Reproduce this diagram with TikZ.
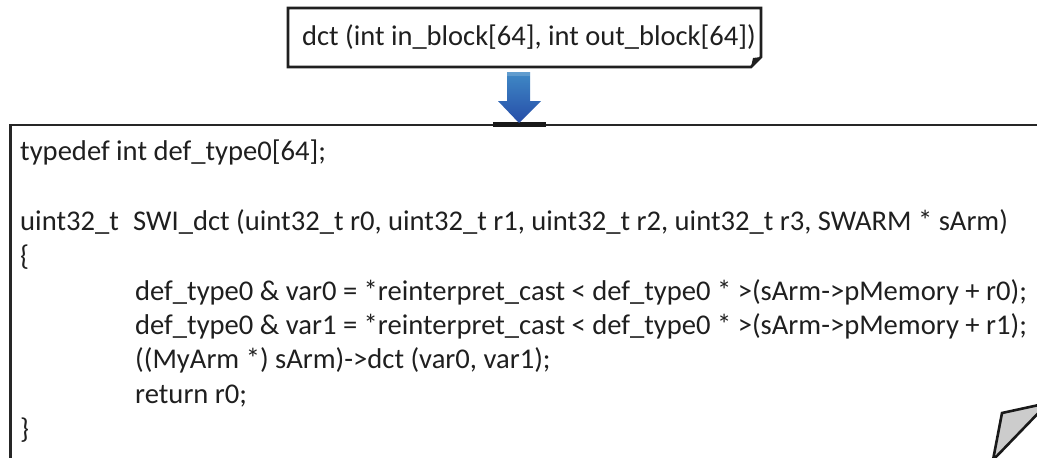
\documentclass[tikz,border=0pt]{standalone}
\usepackage{fontspec}
\setmainfont{Carlito}
\begin{document}
\begin{tikzpicture}[x=1pt,y=-1pt,
  outline/.style={draw=black!88,line width=2.6pt,line join=miter},
  sigtext/.style={inner sep=0pt,anchor=base west,text=black!88,font=\fontsize{28.5}{32}\selectfont},
  code/.style={inner sep=0pt,anchor=base west,text=black!88,font=\fontsize{28.6}{34}\selectfont},
  blockarrow/.style={top color=blue!45!cyan!70!black!75,bottom color=blue!70!cyan!60!black!85,draw=none}]
  \useasboundingbox (0,0) rectangle (1037,458);
  \clip (0,0) rectangle (1037,458);

  % signature box with folded corner
  \draw[outline] (288,8) -- (761,8) -- (761,57) -- (751,67) -- (288,67) -- cycle;
  \fill[black!88] (751,67) -- (753,58) -- (761,57) -- cycle;
  \node[sigtext] (sig) at (302,45) {dct (int in\_block[64], int out\_block[64])};

  % code sheet, running past the right and lower edges
  \draw[draw=black!85,line width=1.8pt] (10,125) -- (1045,125);
  \draw[draw=black!85,line width=3pt] (10,124) -- (10,470);
  \fill[black!90] (493,121.5) rectangle (546,127);

  % block arrow from the signature to the sheet
  \coordinate (atop) at (519,72);
  \coordinate (atip) at (519,123);
  \shade[blockarrow] (507,72) -- (530,72) -- (530,101) -- (541,101) -- (atip) -- (498,101) -- (507,101) -- cycle;
  \fill[white,opacity=0.18] (507,72) rectangle (530,76);

  % code lines
  \node[code] (l1) at (20,160) {typedef int def\_type0[64];};
  \node[code] (l2) at (20,230) {uint32\_t\enspace SWI\_dct (uint32\_t r0, uint32\_t r1, uint32\_t r2, uint32\_t r3, SWARM * sArm)};
  \node[code] (l3) at (20,265) {\{};
  \node[code] (l4) at (135,300) {def\_type0 \& var0 = *reinterpret\_cast < def\_type0 * >(sArm->pMemory + r0);};
  \node[code] (l5) at (135,334) {def\_type0 \& var1 = *reinterpret\_cast < def\_type0 * >(sArm->pMemory + r1);};
  \node[code] (l6) at (135,368) {((MyArm *) sArm)->dct (var0, var1);};
  \node[code] (l7) at (135,403) {return r0;};
  \node[code] (l8) at (20,438) {\}};

  % curled corner of the sheet
  \filldraw[fill=black!20,draw=black!90,line width=2.6pt,line join=miter] (993,460) -- (1002,413) -- (1048,403) -- cycle;
\end{tikzpicture}
\end{document}
